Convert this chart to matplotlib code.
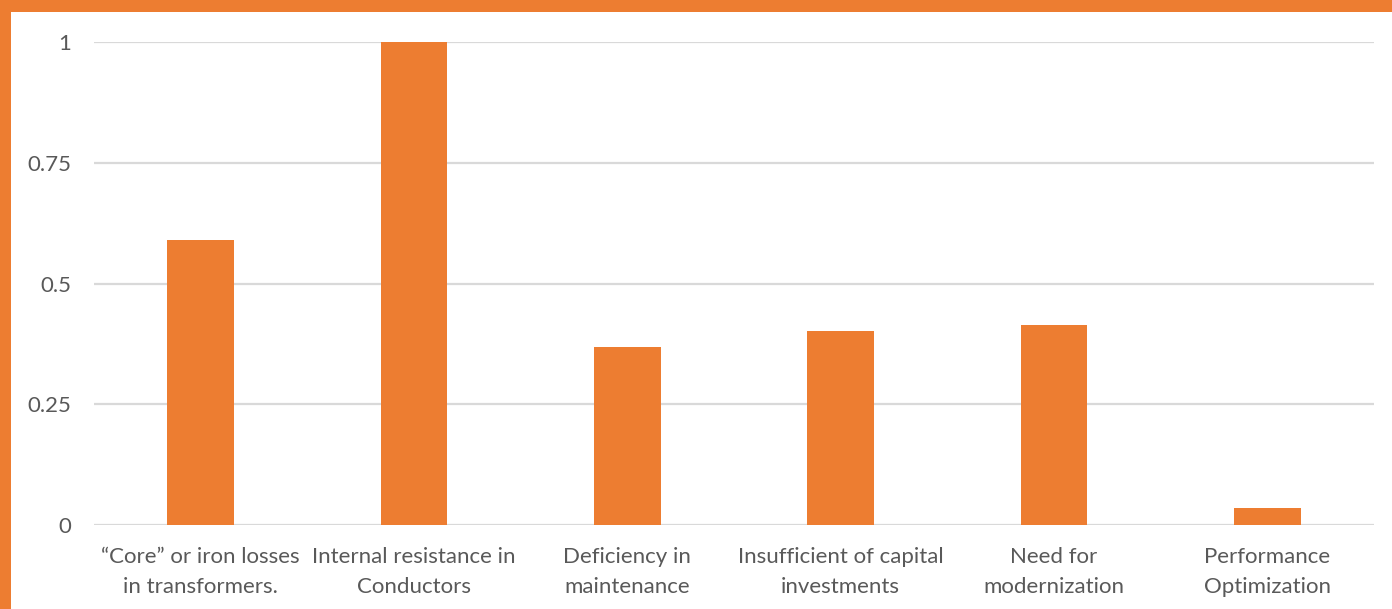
import matplotlib
matplotlib.use("Agg")
import matplotlib.pyplot as plt
from matplotlib.patches import Rectangle

categories = ["\u201cCore\u201d or iron losses\nin transformers.", "Internal resistance in\nConductors",
              "Deficiency in\nmaintenance", "Insufficient of capital\ninvestments",
              "Need for\nmodernization", "Performance\nOptimization"]
values = [0.59, 1.0, 0.3685, 0.402, 0.414, 0.036]
yticks = [0, 0.25, 0.5, 0.75, 1]
ytick_labels = ["0", "0.25", "0.5", "0.75", "1"]

W, H = 1392, 609
orange = "#ED7D31"
fig = plt.figure(figsize=(W/100, H/100), dpi=100, facecolor=orange)
fig.patches.append(Rectangle((11/W, 0), 1, 1 - 12/H, transform=fig.transFigure,
                             facecolor="white", edgecolor="none", zorder=-10))

x0, x1 = 94, 1374
ytop, ybot = 42, 525
ax = fig.add_axes([x0/W, 1 - ybot/H, (x1-x0)/W, (ybot-ytop)/H])
ax.set_zorder(5)
ax.set_facecolor("none")
xs = range(len(categories))
ax.bar(xs, values, width=0.314, color=orange, zorder=3)
ax.set_xlim(-0.5, len(categories)-0.5)
ax.set_ylim(0, 1)
ax.set_yticks(yticks)
ax.set_yticklabels(ytick_labels)
ax.set_xticks(list(xs))
ax.set_xticklabels(categories, linespacing=1.68)
for s in ax.spines.values():
    s.set_visible(False)
ax.grid(axis="y", color="#d9d9d9", linewidth=1.6, zorder=0)
ax.set_axisbelow(True)
ax.tick_params(axis="both", length=0, colors="#595959", labelsize=16)
ax.tick_params(axis="y", pad=16.5)
ax.tick_params(axis="x", pad=15.5)
for t in ax.get_xticklabels() + ax.get_yticklabels():
    t.set_fontfamily(["Lato", "DejaVu Sans"])
    t.set_color("#595959")
fig.savefig("out.png", dpi=100, facecolor=orange)
